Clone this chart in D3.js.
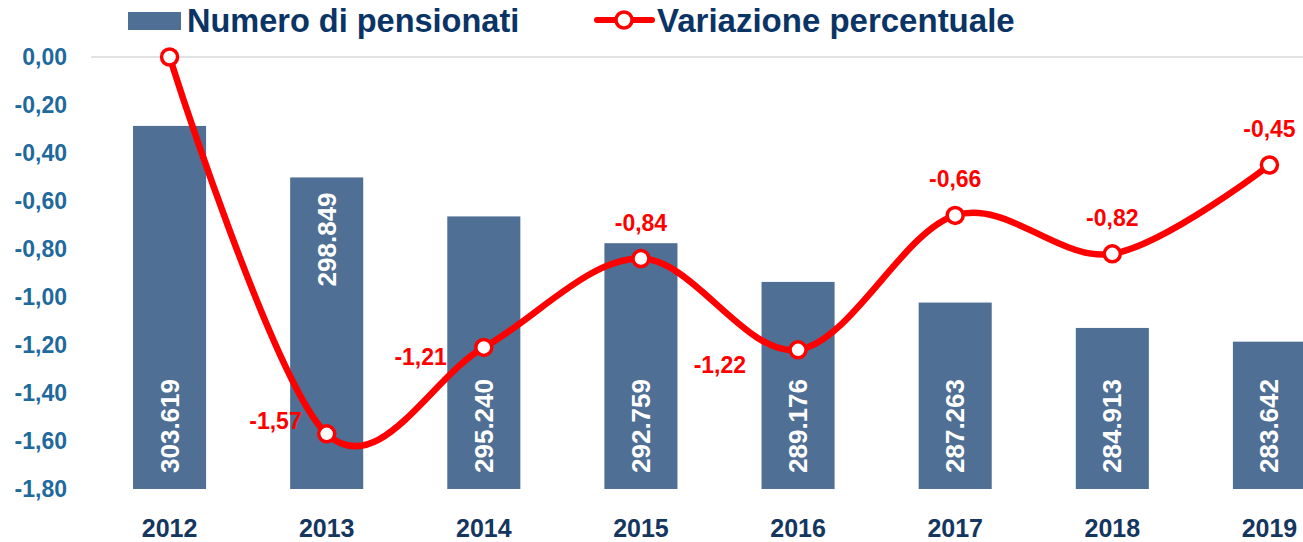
<!DOCTYPE html>
<html>
<head>
<meta charset="utf-8">
<script src="https://cdn.jsdelivr.net/npm/d3@7"></script>
<style>
  html, body { margin: 0; padding: 0; background: #fff; }
  svg { display: block; font-family: "Liberation Sans", Arial, sans-serif; }
</style>
</head>
<body>
<svg id="chart"></svg>
<script>
// Chart data
const years = ['2012', '2013', '2014', '2015', '2016', '2017', '2018', '2019'];
const pensionati = [303619, 298849, 295240, 292759, 289176, 287263, 284913, 283642];
const variazione = [0, -1.57, -1.21, -0.84, -1.22, -0.66, -0.82, -0.45];
const yTicks = [0, -0.2, -0.4, -0.6, -0.8, -1.0, -1.2, -1.4, -1.6, -1.8];

// where each label sits (kept apart from the values)
const barLabelPlace = ['base', 'top', 'base', 'base', 'base', 'base', 'base', 'base'];
const lineLabelPlace = [null, 'left', 'leftLow', 'above', 'leftLower', 'above', 'above', 'above'];

function draw() {
  const width = 1303;
  const height = 542;
  const top = 57;
  const bottom = 489;

  // Italian number format, plain hyphen for negatives
  const it = d3.formatLocale({decimal: ',', thousands: '.', grouping: [3], minus: '-'});
  const fmtPct = it.format('.2f');
  const fmtNum = it.format(',d');

  const svg = d3.select('#chart').attr('width', width).attr('height', height);

  const x = d3.scaleBand()
      .domain(years)
      .range([91, 1348])
      .paddingInner(0.535)
      .paddingOuter(0.2675);

  const y = d3.scaleLinear().domain([-1.8, 0]).range([bottom, top]);
  // secondary (hidden) axis for the bars
  const y2 = d3.scaleLinear().domain([270000, 310000]).range([bottom, top]);

  // top gridline
  svg.append('line')
      .attr('x1', 91).attr('x2', width)
      .attr('y1', y(0)).attr('y2', y(0))
      .attr('stroke', '#d9d9d9').attr('stroke-width', 1.5);

  // left axis
  const yAxis = svg.append('g')
      .attr('transform', 'translate(77,0)')
      .call(d3.axisLeft(y).tickValues(yTicks).tickSize(0).tickPadding(10)
          .tickFormat(fmtPct));
  yAxis.select('.domain').remove();
  yAxis.selectAll('text')
      .attr('font-size', 23).attr('font-weight', 'bold')
      .attr('font-family', '"Liberation Sans", Arial, sans-serif')
      .attr('fill', '#1f6a9c');

  // x axis labels
  const xAxis = svg.append('g')
      .attr('transform', `translate(0,${bottom})`)
      .call(d3.axisBottom(x).tickSize(0).tickPadding(30));
  xAxis.select('.domain').remove();
  xAxis.selectAll('text')
      .attr('font-size', 25).attr('font-weight', 'bold')
      .attr('font-family', '"Liberation Sans", Arial, sans-serif')
      .attr('fill', '#14365f');

  // bars
  svg.append('g').selectAll('rect')
      .data(pensionati)
      .join('rect')
      .attr('x', (d, i) => x(years[i]))
      .attr('y', (d) => y2(d))
      .attr('width', x.bandwidth())
      .attr('height', (d) => bottom - y2(d))
      .attr('fill', '#4f6f94');

  // bar labels, rotated
  svg.append('g').selectAll('text')
      .data(pensionati)
      .join('text')
      .attr('transform', (d, i) => {
        const cx = x(years[i]) + x.bandwidth() / 2 + 9;
        const cy = barLabelPlace[i] === 'top' ? y2(d) + 15 : bottom - 16;
        return `translate(${cx},${cy}) rotate(-90)`;
      })
      .attr('text-anchor', (d, i) => barLabelPlace[i] === 'top' ? 'end' : 'start')
      .attr('font-size', 26).attr('font-weight', 'bold')
      .attr('fill', '#fff')
      .text((d) => fmtNum(d));

  // smoothed line
  const cx = (i) => x(years[i]) + x.bandwidth() / 2;
  const line = d3.line()
      .x((d, i) => cx(i))
      .y((d) => y(d))
      .curve(d3.curveCardinal.tension(0));

  svg.append('path')
      .datum(variazione)
      .attr('d', line)
      .attr('fill', 'none')
      .attr('stroke', '#ff0000')
      .attr('stroke-width', 6.5)
      .attr('stroke-linejoin', 'round');

  svg.append('g').selectAll('circle')
      .data(variazione)
      .join('circle')
      .attr('cx', (d, i) => cx(i))
      .attr('cy', (d) => y(d))
      .attr('r', 8)
      .attr('fill', '#fff')
      .attr('stroke', '#ff0000')
      .attr('stroke-width', 3.5);

  // line labels
  const offsets = {
    above: {dx: 0, dy: -28, anchor: 'middle'},
    left: {dx: -25, dy: -5, anchor: 'end'},
    leftLow: {dx: -37, dy: 18, anchor: 'end'},
    leftLower: {dx: -52, dy: 23, anchor: 'end'},
  };
  svg.append('g').selectAll('text')
      .data(variazione.map((v, i) => ({v, i})).filter((d) => lineLabelPlace[d.i]))
      .join('text')
      .attr('x', (d) => cx(d.i) + offsets[lineLabelPlace[d.i]].dx)
      .attr('y', (d) => y(d.v) + offsets[lineLabelPlace[d.i]].dy)
      .attr('text-anchor', (d) => offsets[lineLabelPlace[d.i]].anchor)
      .attr('font-size', 23).attr('font-weight', 'bold')
      .attr('fill', '#ff0000')
      .text((d) => fmtPct(d.v));

  // legend
  const legend = svg.append('g');
  legend.append('rect')
      .attr('x', 128).attr('y', 12).attr('width', 53).attr('height', 18)
      .attr('fill', '#4f6f94');
  legend.append('text')
      .attr('x', 187).attr('y', 32)
      .attr('font-size', 32.5).attr('font-weight', 'bold')
      .attr('fill', '#0b3466')
      .text('Numero di pensionati');
  legend.append('line')
      .attr('x1', 597).attr('x2', 652).attr('y1', 20).attr('y2', 20)
      .attr('stroke', '#ff0000').attr('stroke-width', 6)
      .attr('stroke-linecap', 'round');
  legend.append('circle')
      .attr('cx', 624).attr('cy', 20).attr('r', 8)
      .attr('fill', '#fff').attr('stroke', '#ff0000').attr('stroke-width', 3.5);
  legend.append('text')
      .attr('x', 657).attr('y', 32)
      .attr('font-size', 33).attr('font-weight', 'bold')
      .attr('fill', '#0b3466')
      .text('Variazione percentuale');
}

draw();
</script>
</body>
</html>
